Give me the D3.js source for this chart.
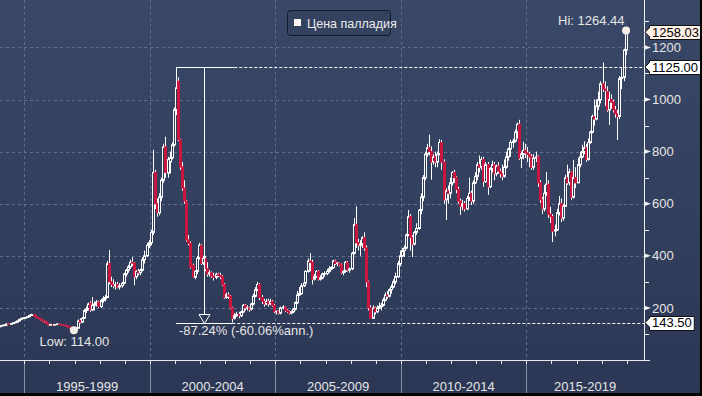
<!DOCTYPE html>
<html><head><meta charset="utf-8">
<script src="https://cdn.jsdelivr.net/npm/d3@7"></script>
<style>html,body{margin:0;padding:0;background:#2f3c59;overflow:hidden}</style>
</head><body>
<svg id="c" width="702" height="396"></svg>
<script>
// ---------- DATA (monthly OHLC, palladium, USD/oz) ----------
const startYear = 1994;
const seriesName = "Цена палладия";
const open = [
 128,131,133,134,138,137,140,143,145,150,156,160, // 1994
 161,163,166,171,174,168,162,160,154,150,146,140, // 1995
 135,136,134,136,138,136,135,134,131,128,124,120, // 1996
 118,122,152,145,160,190,195,218,192,210,215,222, // 1997
 205,228,235,240,370,300,290,285,290,280,285,295, // 1998
 330,345,358,375,372,320,340,335,345,385,400,440, // 1999
 450,490,720,600,565,625,690,818,718,760,776,826, // 2000
 961,1070,846,741,660,610,461,448,364,318,340,390, // 2001
 440,371,390,350,330,335,322,318,330,325,320,290, // 2002
 240,250,245,200,160,170,175,170,185,210,200,200, // 2003
 195,215,245,270,290,240,225,215,225,215,225,210, // 2004
 185,187,180,200,203,190,185,180,185,195,220,250, // 2005
 255,285,295,340,380,375,310,320,340,310,315,330, // 2006
 332,340,350,355,380,370,372,365,335,340,375,345, // 2007
 350,410,520,450,440,445,470,430,300,200,160,200, // 2008
 185,200,205,210,230,250,245,270,280,300,320,370, // 2009
 400,420,430,480,550,470,445,490,505,575,625,700, // 2010
 790,815,800,760,780,760,790,835,760,615,650,640, // 2011
 680,720,700,655,610,590,600,580,620,640,610,680, // 2012
 705,750,740,770,685,750,665,735,750,715,745,725, // 2013
 715,705,740,780,810,835,840,875,905,775,790,805, // 2014
 795,790,780,740,775,780,680,615,580,640,675,560, // 2015
 550,495,500,565,600,545,590,700,680,722,625,700, // 2016
 680,750,780,800,815,770,835,875,935,925,975,1000, // 2017
 1060,1040,1030,960,1000,990,960,945,935,1080,1085,1190 // 2018
];
const high = [
 133,136,137,140,140,142,146,148,152,158,162,164,
 166,169,174,178,177,170,164,161,156,152,148,142,
 139,138,138,140,140,138,137,135,132,129,126,122,
 126,156,160,165,195,205,220,225,242,225,230,228,
 235,245,250,380,422,320,310,300,300,295,300,335,
 350,365,385,395,375,345,350,350,395,420,450,460,
 500,807,730,620,640,700,830,857,780,800,835,970,
 1125,1085,850,760,690,615,480,455,370,345,400,450,
 445,400,400,375,345,340,335,335,335,335,325,295,
 258,260,250,205,180,185,185,190,215,215,210,205,
 220,255,280,300,295,250,235,235,235,235,230,215,
 190,190,205,210,205,195,190,190,200,225,265,280,
 295,310,345,390,410,385,330,345,345,325,335,340,
 350,360,360,385,385,375,375,370,345,380,380,355,
 415,545,590,465,460,475,490,440,305,210,210,205,
 210,220,220,240,260,265,275,290,310,335,380,420,
 430,440,485,576,560,480,495,525,580,640,710,800,
 830,865,820,790,800,800,848,845,770,660,670,700,
 725,730,705,665,620,615,610,630,700,650,690,720,
 760,785,780,780,760,760,740,765,760,750,760,735,
 750,770,800,815,845,850,885,911,922,800,838,830,
 818,800,790,790,800,785,690,625,672,722,690,588,
 560,520,580,630,620,600,711,750,735,725,768,740,
 776,800,826,840,830,850,880,942,1000,1000,1030,1070,
 1142,1070,1050,1030,1020,1000,975,960,1090,1120,1195,1264.44
];
const low = [
 126,129,131,132,135,135,138,141,143,148,153,157,
 158,161,164,169,166,160,157,152,148,143,138,132,
 132,131,132,134,134,133,131,129,126,121,118,114,
 115,120,140,143,158,180,190,185,188,190,205,200,
 200,220,225,238,290,280,275,270,275,270,278,290,
 320,335,350,360,287,310,325,325,340,370,395,430,
 440,480,580,550,555,610,680,700,700,715,770,820,
 940,840,730,650,600,455,440,350,315,310,330,385,
 365,365,340,320,320,315,305,310,318,310,285,235,
 235,235,195,143.5,155,165,160,165,180,190,190,185,
 190,210,240,265,230,215,205,210,205,210,205,180,
 175,175,175,195,185,180,175,175,180,190,215,245,
 250,280,290,335,340,290,305,315,305,305,310,320,
 325,335,345,350,365,360,360,330,325,335,340,335,
 345,405,430,420,400,430,420,280,190,165,160,175,
 180,195,190,205,225,235,240,255,275,290,315,360,
 395,395,425,475,420,395,440,480,500,560,610,690,
 780,785,692,750,740,740,785,730,600,538,600,620,
 670,680,640,600,557,575,570,575,610,595,600,675,
 690,720,730,665,680,634,660,720,690,705,715,700,
 690,700,735,765,780,815,835,850,768,737,770,775,
 760,740,730,730,760,665,603,560,570,630,545,526,
 453,475,495,555,530,535,590,672,670,615,620,660,
 680,740,775,790,760,765,830,870,900,920,960,985,
 1030,975,953,903,965,950,930,845,925,1040,1070,1170
];
const close = [
 131,133,134,138,137,140,143,145,150,156,160,161,
 163,166,171,174,168,162,160,154,150,146,140,135,
 136,134,136,138,136,135,134,131,128,124,120,118,
 122,150,145,160,190,195,215,192,210,215,222,205,
 228,235,240,370,300,290,285,290,280,285,295,330,
 345,358,375,372,320,340,335,345,385,400,440,450,
 490,720,600,565,625,690,818,720,770,776,826,961,
 1045,846,741,660,610,461,448,356,318,340,390,440,
 371,390,350,330,335,322,318,330,325,320,290,240,
 250,245,200,160,170,175,170,185,210,200,200,195,
 215,245,270,290,240,225,215,225,215,225,210,185,
 187,180,200,203,190,185,180,185,195,220,250,255,
 285,295,340,380,375,310,320,340,310,315,330,332,
 340,350,355,380,370,372,365,335,340,375,345,350,
 410,520,450,440,445,470,430,300,200,160,200,185,
 200,205,210,230,250,245,270,280,300,320,370,400,
 420,430,480,550,470,445,490,505,575,625,700,790,
 815,800,760,780,760,790,835,760,615,650,640,680,
 720,700,655,610,590,600,580,620,640,610,680,705,
 750,740,770,685,750,665,735,750,715,745,725,715,
 705,740,780,810,835,840,875,905,775,790,805,795,
 790,780,740,775,780,680,615,580,640,675,560,550,
 495,500,565,600,545,590,700,680,722,625,700,680,
 750,780,800,815,770,835,875,935,925,975,1000,1060,
 1040,1035,960,1000,990,960,945,935,1080,1085,1190,1258.03
];
const yTicks = [200,400,600,800,1000,1200];
const yMinorTicks = [100,300,500,700,900,1100,1300];
const periodStarts = [1995,2000,2005,2010,2015];
const periodLabels = ["1995-1999","2000-2004","2005-2009","2010-2014","2015-2019"];
const drawdownText = "-87.24% (-60.06%ann.)";

// ---------- CHART ----------
const W=702, H=396, R=644, B=360;
const FONT = "'Liberation Sans', Arial, sans-serif";
const svg = d3.select("#c");
const n = open.length;
const idx = d3.range(n);
const dateOf = i => new Date(startYear, i, 15);

const x = d3.scaleTime().domain([new Date(1994,0,12), new Date(2019,8,9)]).range([0,R]);
const y = d3.scaleLinear().domain([0,1382]).range([B,0]);

const defs = svg.append("defs");
const grad = defs.append("linearGradient").attr("id","bg").attr("x1",0).attr("y1",0).attr("x2",0).attr("y2",1);
grad.append("stop").attr("offset","0%").attr("stop-color","#3a4868");
grad.append("stop").attr("offset","100%").attr("stop-color","#2b3754");
svg.append("rect").attr("width",W).attr("height",H).attr("fill","url(#bg)");

// grid
const grid = svg.append("g").attr("stroke","#5f6f8f").attr("stroke-dasharray","3,3").attr("stroke-width",1);
grid.selectAll("line.h").data(yTicks).join("line")
  .attr("x1",0).attr("x2",R).attr("y1",d=>Math.round(y(d))+0.5).attr("y2",d=>Math.round(y(d))+0.5);
grid.selectAll("line.v").data(periodStarts).join("line")
  .attr("x1",d=>Math.round(x(new Date(d,0,1)))+0.5).attr("x2",d=>Math.round(x(new Date(d,0,1)))+0.5)
  .attr("y1",0).attr("y2",B);

// bottom axis band
const bx = svg.append("g");
bx.append("line").attr("x1",0).attr("x2",R).attr("y1",B+0.5).attr("y2",B+0.5).attr("stroke","#e8e8e8");
bx.selectAll("line.sep").data(periodStarts).join("line")
  .attr("x1",d=>Math.round(x(new Date(d,0,1)))+0.5).attr("x2",d=>Math.round(x(new Date(d,0,1)))+0.5)
  .attr("y1",B).attr("y2",393).attr("stroke","#8591a8");
const yearTicks = d3.range(1995,2020);
bx.selectAll("line.yt").data(yearTicks).join("line")
  .attr("x1",d=>Math.round(x(new Date(d,0,1)))+0.5).attr("x2",d=>Math.round(x(new Date(d,0,1)))+0.5)
  .attr("y1",B).attr("y2",B+4).attr("stroke","#e8e8e8");
bx.selectAll("text").data(periodStarts).join("text")
  .attr("x",(d,i)=>(x(new Date(d,0,1))+Math.min(R,x(new Date(d+5,0,1))))/2)
  .attr("y",391).attr("text-anchor","middle").attr("font-family",FONT).attr("font-size",13)
  .attr("fill","#e6e6e6").text((d,i)=>periodLabels[i]);

// right axis
const ax = svg.append("g");
ax.append("line").attr("x1",R+0.5).attr("x2",R+0.5).attr("y1",0).attr("y2",B+1).attr("stroke","#f0f0f0");
ax.append("line").attr("x1",R).attr("x2",R+6).attr("y1",B+0.5).attr("y2",B+0.5).attr("stroke","#f0f0f0");
ax.selectAll("line.mn").data(yMinorTicks).join("line")
  .attr("x1",R).attr("x2",R+5).attr("y1",d=>Math.round(y(d))+0.5).attr("y2",d=>Math.round(y(d))+0.5).attr("stroke","#f0f0f0");
ax.selectAll("path.mj").data(yTicks).join("path")
  .attr("d",d=>{const yy=y(d);return `M${R},${yy-2.5}L${R+7},${yy}L${R},${yy+2.5}Z`;}).attr("fill","#f0f0f0");
ax.selectAll("text").data(yTicks).join("text")
  .attr("x",R+8).attr("y",d=>y(d)).attr("dy","0.36em").attr("font-family",FONT).attr("font-size",13)
  .attr("fill","#e6e6e6").text(d=>d);

// candles
const up = i => close[i] >= open[i];
const cxOf = i => Math.round(x(dateOf(i)));
const RED = "#c8163f";
const cg = svg.append("g");
cg.selectAll("line.wt").data(idx).join("line")
  .attr("x1",i=>cxOf(i)+0.5).attr("x2",i=>cxOf(i)+0.5)
  .attr("y1",i=>y(high[i])).attr("y2",i=>y(Math.max(open[i],close[i])))
  .attr("stroke","#ffffff").attr("stroke-width",1);
cg.selectAll("line.wb").data(idx).join("line")
  .attr("x1",i=>cxOf(i)+0.5).attr("x2",i=>cxOf(i)+0.5)
  .attr("y1",i=>y(Math.min(open[i],close[i]))).attr("y2",i=>y(low[i]))
  .attr("stroke","#ffffff").attr("stroke-width",1);
cg.selectAll("rect").data(idx).join("rect")
  .attr("x",i=>cxOf(i)-0.5).attr("width",2)
  .attr("y",i=>y(Math.max(open[i],close[i])))
  .attr("height",i=>Math.max(0.5, y(Math.min(open[i],close[i]))-y(Math.max(open[i],close[i]))))
  .attr("fill",i=>up(i)?"#2f3c5a":RED)
  .attr("stroke",i=>up(i)?"#ffffff":RED).attr("stroke-width",1);

// drawdown annotation
const peakVal = d3.max(high.slice(0,120));
const iPeak = high.indexOf(peakVal);
const troughVal = d3.min(low.slice(iPeak));
const iTrough = iPeak + low.slice(iPeak).indexOf(troughVal);
const xp = x(dateOf(iPeak)), xt = x(dateOf(iTrough));
const yp = Math.round(y(peakVal))+0.5, yt = Math.round(y(troughVal))+0.5;
const an = svg.append("g").attr("stroke","#ffffff").attr("stroke-width",1).attr("fill","none");
an.append("line").attr("x1",xp).attr("x2",xt+2).attr("y1",yp).attr("y2",yp);
an.append("line").attr("x1",xt+2).attr("x2",R).attr("y1",yp).attr("y2",yp).attr("stroke-dasharray","3,2");
an.append("line").attr("x1",xp).attr("x2",xt).attr("y1",yt).attr("y2",yt);
an.append("line").attr("x1",xt).attr("x2",R).attr("y1",yt).attr("y2",yt).attr("stroke-dasharray","3,2");
const xm = Math.round((xp+xt)/2)+0.5;
an.append("line").attr("x1",xm).attr("x2",xm).attr("y1",yp).attr("y2",yt-9);
an.append("path").attr("d",`M${xm-5.5},${yt-9}L${xm+5.5},${yt-9}L${xm},${yt}Z`).attr("fill","#2d3a57");
svg.append("text").attr("x",xp+3).attr("y",yt+11.5).attr("font-family",FONT).attr("font-size",13)
  .attr("fill","#e6e6e6").text(drawdownText);

// hi / low markers
const hiVal = d3.max(high), iHi = high.indexOf(hiVal);
const loVal = d3.min(low), iLo = low.indexOf(loVal);
svg.append("circle").attr("cx",x(dateOf(iHi))+0.5).attr("cy",y(hiVal)).attr("r",4).attr("fill","#f6efe9");
svg.append("circle").attr("cx",x(dateOf(iLo))+0.5).attr("cy",y(loVal)).attr("r",4).attr("fill","#f6efe9");
svg.append("text").attr("x",x(dateOf(iHi))-1).attr("y",y(hiVal)-6).attr("text-anchor","end")
  .attr("font-family",FONT).attr("font-size",13).attr("fill","#e6e6e6").text("Hi: "+d3.format(".2f")(hiVal));
svg.append("text").attr("x",x(dateOf(iLo))+1).attr("y",y(loVal)+16).attr("text-anchor","middle")
  .attr("font-family",FONT).attr("font-size",13).attr("fill","#e6e6e6").text("Low: "+d3.format(".2f")(loVal));

// value boxes
function valueBox(v, fill){
  const yc = y(v);
  const g = svg.append("g");
  const t = g.append("text").attr("x",R+8).attr("y",yc).attr("dy","0.36em")
    .attr("font-family",FONT).attr("font-size",13).attr("fill","#000").text(d3.format(".2f")(v));
  const tw = t.node().getComputedTextLength();
  const l=R+5.5, r=R+8+tw+2.5, t0=Math.round(yc-7)+0.5, b0=Math.round(yc+7)+0.5;
  g.insert("path","text").attr("d",`M${R+1},${yc}L${l},${yc-4.5}L${l},${t0}L${r},${t0}L${r},${b0}L${l},${b0}L${l},${yc+4.5}Z`)
    .attr("fill",fill).attr("stroke","#111").attr("stroke-width",1);
}
valueBox(close[n-1], "#fdf0e6");
valueBox(peakVal, "#ffffff");
valueBox(troughVal, "#ffffff");

// legend
const lg = svg.append("g");
lg.append("rect").attr("x",287.5).attr("y",10.5).attr("width",103).attr("height",25).attr("rx",3)
  .attr("fill","#34425f").attr("stroke","#121a2a");
lg.append("rect").attr("x",294).attr("y",19).attr("width",7).attr("height",7).attr("fill","#fff6ef");
lg.append("text").attr("x",307).attr("y",27.5).attr("font-family",FONT).attr("font-size",12.5)
  .attr("fill","#ececec").text(seriesName);

// frame edges
svg.append("rect").attr("x",0).attr("y",393).attr("width",W).attr("height",3).attr("fill","#000");
svg.append("rect").attr("x",700).attr("y",0).attr("width",2).attr("height",H).attr("fill","#000");
</script>
</body></html>
